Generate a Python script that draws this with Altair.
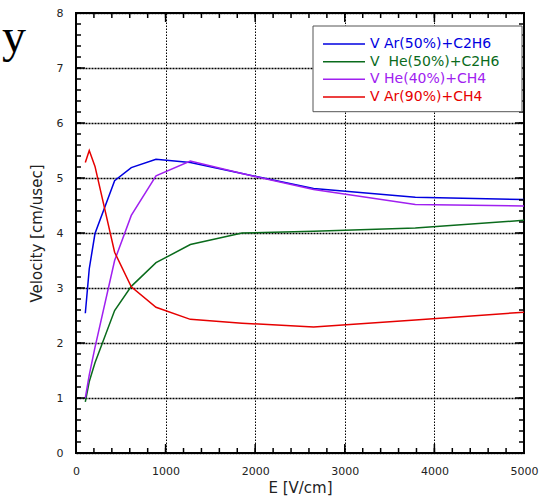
import altair as alt
import pandas as pd

# ---- data ----
E = [104, 148, 212, 431, 617, 893, 1276, 1853, 2652, 3787, 5000]
series_names = ["V Ar(50%)+C2H6", "V\u00a0 He(50%)+C2H6", "V He(40%)+CH4", "V Ar(90%)+CH4"]
ar50_c2h6 = [2.54, 3.35, 3.99, 4.95, 5.19, 5.34, 5.28, 5.08, 4.81, 4.65, 4.61]
he50_c2h6 = [0.93, 1.30, 1.64, 2.59, 3.03, 3.46, 3.79, 4.00, 4.03, 4.09, 4.23]
he40_ch4 = [1.00, 1.42, 1.92, 3.50, 4.32, 5.04, 5.31, 5.08, 4.79, 4.52, 4.49]
ar90_ch4 = [5.28, 5.50, 5.21, 3.65, 3.02, 2.65, 2.43, 2.36, 2.29, 2.42, 2.56]
colors = ["#0000e0", "#0a6b1c", "#a020f0", "#e60000"]

x_ticks = [0, 1000, 2000, 3000, 4000, 5000]
y_ticks = [0, 1, 2, 3, 4, 5, 6, 7, 8]
x_minor = [i * 200 for i in range(26)]
y_minor = [i * 0.2 for i in range(41)]

rows = []
for name, vals in zip(series_names, [ar50_c2h6, he50_c2h6, he40_ch4, ar90_ch4]):
    for e, v in zip(E, vals):
        rows.append({"series": name, "E": e, "V": v})
df = pd.DataFrame(rows)

W, H = 448, 440

X = alt.X("E:Q", scale=alt.Scale(domain=[0, 5000], nice=False, zero=False),
          axis=alt.Axis(values=x_ticks, title="E [V/cm]", format="d", labelFlush=False,
                        gridDash=[1.5, 1.5], gridWidth=1, labelPadding=12, titlePadding=4))
Y = alt.Y("V:Q", scale=alt.Scale(domain=[0, 8], nice=False, zero=False),
          axis=alt.Axis(values=y_ticks, title="Velocity [cm/usec]", labelFlush=False,
                        gridDash=[2, 1], gridWidth=1.6, labelPadding=13, titlePadding=12))
color = alt.Color("series:N", scale=alt.Scale(domain=series_names, range=colors), legend=None)

lines = alt.Chart(df).mark_line(strokeWidth=1.5).encode(x=X, y=Y, color=color)

ydf_minor = pd.DataFrame({"V": y_minor})
ydf_major = pd.DataFrame({"V": y_ticks})
xdf_minor = pd.DataFrame({"E": x_minor})
xdf_major = pd.DataFrame({"E": x_ticks})

def yt(d, x1, x2):
    return alt.Chart(d).mark_rule(color="black", strokeWidth=1.5).encode(
        y=Y, x=alt.value(x1), x2=alt.value(x2))

def xt(d, y1, y2):
    return alt.Chart(d).mark_rule(color="black", strokeWidth=1.5).encode(
        x=X, y=alt.value(y1), y2=alt.value(y2))

ticks = [
    yt(ydf_minor, 0, 5), yt(ydf_minor, W - 5, W),
    yt(ydf_major, 0, 9), yt(ydf_major, W - 9, W),
    xt(xdf_minor, H - 5, H), xt(xdf_minor, 0, 5),
    xt(xdf_major, H - 9, H), xt(xdf_major, 0, 9),
]

main = alt.layer(lines, *ticks)

# ---- legend drawn inside the plot ----
leg_df = pd.DataFrame({"series": series_names})
LY = alt.Y("series:N", sort=series_names,
           scale=alt.Scale(type="point", domain=series_names, range=[31, 84], padding=0),
           axis=None)
box = alt.Chart(pd.DataFrame({"a": [0]})).mark_rect(
    fill="white", stroke="#555555", strokeWidth=1).encode(
    x=alt.value(237), x2=alt.value(446), y=alt.value(13), y2=alt.value(98.7))
leg_lines = alt.Chart(leg_df).mark_rule(strokeWidth=1.5).encode(
    x=alt.value(247), x2=alt.value(289), y=LY, color=color)
leg_text = alt.Chart(leg_df).mark_text(
    align="left", baseline="middle", font="DejaVu Sans", fontSize=14).encode(
    x=alt.value(294), y=LY, text="series:N", color=color)
legend = alt.layer(box, leg_lines, leg_text)

corner = alt.Chart(pd.DataFrame({"t": ["y"]})).mark_text(
    align="left", baseline="alphabetic", font="Liberation Serif", fontSize=48, color="black").encode(
    x=alt.value(-74), y=alt.value(39), text="t:N")

chart = alt.layer(main, legend, corner).resolve_scale(y="independent").properties(
    width=W, height=H,
    autosize=alt.AutoSizeParams(type="none"),
    padding={"left": 76, "top": 13, "right": 35, "bottom": 49},
).configure_view(stroke="black", strokeWidth=2).configure_axis(
    labelFont="DejaVu Sans", labelFontSize=11, labelColor="#222222",
    titleFont="DejaVu Sans", titleFontSize=15, titleFontWeight="normal", titleColor="#222222",
    domain=False, ticks=False, grid=True, gridColor="black", gridOpacity=1,
)

chart.save("out.html", embed_options={"renderer": "svg", "actions": False})
